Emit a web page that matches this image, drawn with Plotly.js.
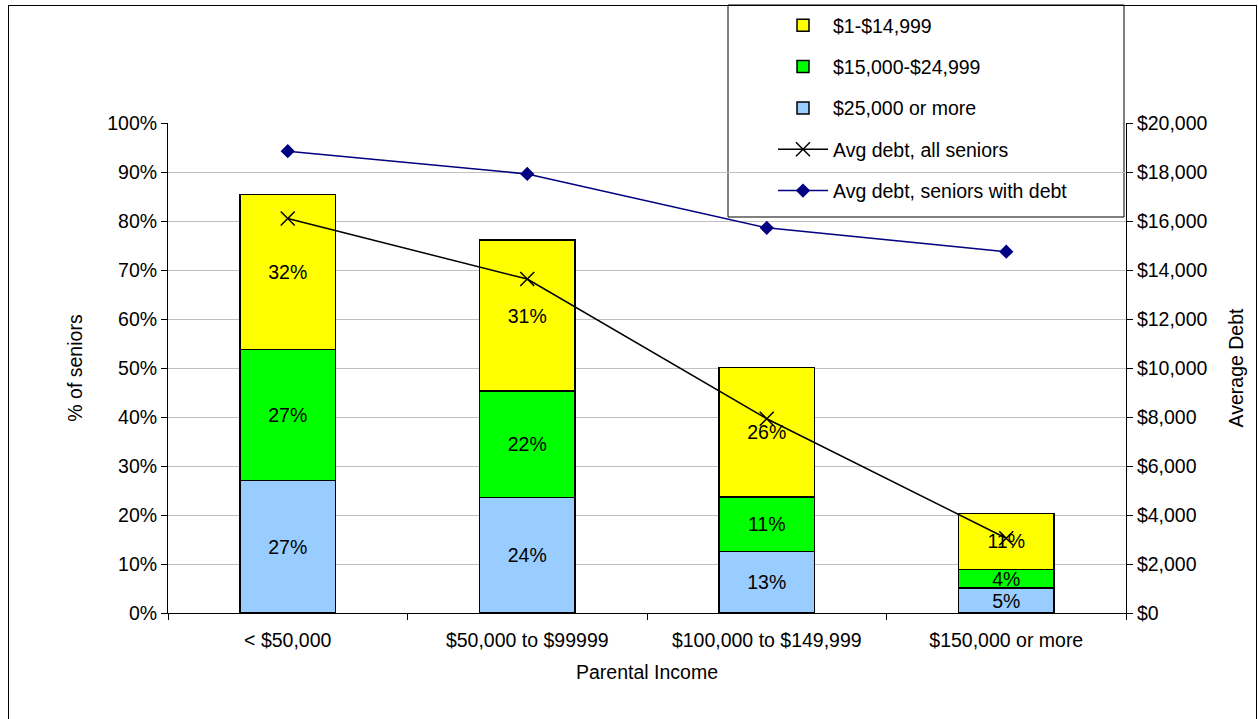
<!DOCTYPE html>
<html><head><meta charset="utf-8">
<script src="https://cdn.plot.ly/plotly-3.0.1.min.js"></script>
<style>
html,body{margin:0;padding:0;background:#fff;overflow:hidden}
#chart{width:1258px;height:719px}
#frame{position:absolute;left:8px;top:5px;width:1249px;height:730px;border:1px solid #000;box-sizing:border-box;pointer-events:none}
</style></head><body>
<div id="chart"></div><div id="frame"></div>
<script>
const categories = ['< $50,000', '$50,000 to $99999', '$100,000 to $149,999', '$150,000 or more'];
const pct25kPlus = [27.0, 23.6, 12.6, 5.1];
const pct15to25k = [26.8, 21.7, 11.1, 3.8];
const pct1to15k = [31.6, 30.8, 26.4, 11.4];
const avgDebtAll = [16100, 13630, 7930, 3050];
const avgDebtWithDebt = [18850, 17920, 15720, 14750];
const seriesNames = ['$1-$14,999', '$15,000-$24,999', '$25,000 or more', 'Avg debt, all seniors', 'Avg debt, seniors with debt'];

const FONT = 'Liberation Sans, Arial, sans-serif';
const FS = 19.5;

function barTrace(vals, name, color, rank) {
  return {
    type: 'bar', x: categories, y: vals, name: name, width: 0.4,
    marker: {color: color, line: {color: '#000', width: 1.5}},
    texttemplate: '%{y:.0f}%', textposition: 'inside', insidetextanchor: 'middle',
    textangle: 0, constraintext: 'none', cliponaxis: false,
    textfont: {family: FONT, size: FS, color: '#000'},
    legendrank: rank, legendgroup: 'g' + rank, hoverinfo: 'skip'
  };
}

const data = [
  barTrace(pct25kPlus, seriesNames[2], '#99CCFF', 3),
  barTrace(pct15to25k, seriesNames[1], '#00FF00', 2),
  barTrace(pct1to15k, seriesNames[0], '#FFFF00', 1),
  {type: 'scatter', mode: 'lines+markers', x: categories, y: avgDebtAll, yaxis: 'y2',
   name: seriesNames[3], line: {color: '#000', width: 1.5},
   marker: {symbol: 'x-thin-open', size: 14, color: '#000', line: {color: '#000', width: 1.5}},
   legendrank: 4, legendgroup: 'g4', cliponaxis: false},
  {type: 'scatter', mode: 'lines+markers', x: categories, y: avgDebtWithDebt, yaxis: 'y2',
   name: seriesNames[4], line: {color: '#000080', width: 1.5},
   marker: {symbol: 'diamond', size: 11, color: '#000080'},
   legendrank: 5, legendgroup: 'g5', cliponaxis: false}
];

const layout = {
  width: 1258, height: 719,
  margin: {l: 168, r: 132, t: 123, b: 106, pad: 0, autoexpand: false},
  paper_bgcolor: '#fff', plot_bgcolor: '#fff',
  font: {family: FONT, size: FS, color: '#000'},
  barmode: 'stack', showlegend: true,
  xaxis: {
    type: 'category', showline: true, linecolor: '#000', linewidth: 1,
    ticks: 'outside', tickson: 'boundaries', ticklen: 6, tickcolor: '#000',
    ticklabelstandoff: 10, tickangle: 0, automargin: false,
    showgrid: false, tickfont: {family: FONT, size: FS},
    title: {text: 'Parental Income', font: {family: FONT, size: FS}, standoff: 14},
    range: [-0.5, 3.5]
  },
  yaxis: {
    range: [0, 100], dtick: 10, ticksuffix: '%', showline: true, linecolor: '#000', linewidth: 1,
    ticks: 'outside', ticklen: 6, tickcolor: '#000', automargin: false,
    showgrid: true, gridcolor: '#C0C0C0', gridwidth: 1, zeroline: false,
    tickfont: {family: FONT, size: FS},
    title: {text: '% of seniors', font: {family: FONT, size: FS}, standoff: 19}
  },
  yaxis2: {
    overlaying: 'y', side: 'right', range: [0, 20000], dtick: 2000, tickformat: '$,',
    showline: true, linecolor: '#000', linewidth: 1, ticks: 'outside', ticklen: 6, tickcolor: '#000',
    showgrid: false, zeroline: false, tickfont: {family: FONT, size: FS}, automargin: false,
    title: {text: 'Average Debt', font: {family: FONT, size: FS}, standoff: 22}
  },
  legend: {
    x: (773 - 168) / 958, y: (613 - 6) / 490, xanchor: 'left', yanchor: 'top',
    bgcolor: 'rgba(0,0,0,0)', borderwidth: 0, traceorder: 'grouped', tracegroupgap: 13,
    itemwidth: 50, font: {family: FONT, size: FS}
  },
  shapes: [{
    type: 'rect', xref: 'paper', yref: 'paper', layer: 'between',
    x0: (728 - 168) / 958, x1: (1124 - 168) / 958, y0: (613 - 217) / 490, y1: (613 - 5) / 490,
    fillcolor: '#fff', line: {color: '#000', width: 1}
  }]
};

Plotly.newPlot('chart', data, layout, {displayModeBar: false, staticPlot: true});
</script>
</body></html>
